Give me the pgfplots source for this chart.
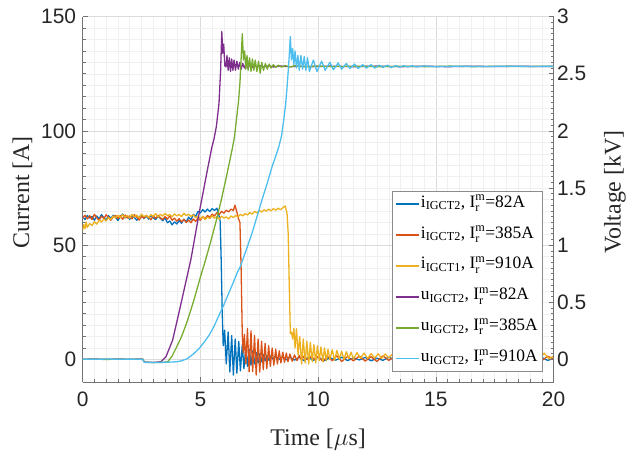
\documentclass[border=0pt]{standalone}
\usepackage{amsmath}
\usepackage{fontspec}
\setmainfont{Liberation Serif}
\setsansfont{Liberation Sans}
\usepackage{pgfplots}
\pgfplotsset{compat=1.18}
\definecolor{cblue}{rgb}{0,0.447,0.741}
\definecolor{corange}{rgb}{0.85,0.325,0.098}
\definecolor{cyellow}{rgb}{0.929,0.694,0.125}
\definecolor{cpurple}{rgb}{0.494,0.184,0.556}
\definecolor{cgreen}{rgb}{0.466,0.674,0.188}
\definecolor{ccyan}{rgb}{0.301,0.745,0.933}
\pgfplotsset{
  common/.style={
    scale only axis, width=473pt, height=367.3pt,
    xmin=0, xmax=20,
    tick align=inside,
    major tick length=5pt, minor tick length=3pt,
    axis line style={black!55, line width=0.6pt},
    every tick/.style={black!55, line width=0.6pt},
    every tick label/.append style={font=\fontsize{21}{21}\selectfont\sffamily, text=black!85},
    /pgf/number format/assume math mode=true,
    label style={font=\fontsize{24}{24}\selectfont, text=black!85},
    every axis plot/.append style={line width=1.3pt, line join=round},
  }
}
\begin{document}
\begin{tikzpicture}
\path (-83pt,-71pt) rectangle (546pt,384pt);
\begin{axis}[common,
  ymin=-10, ymax=150,
  axis y line*=left, axis x line*=bottom,
  xtick={0,5,10,15,20}, ytick={0,50,100,150},
  minor x tick num=9, minor y tick num=9,
  grid=both, major grid style={black!14, line width=0.5pt}, minor grid style={black!6, line width=0.5pt},
  xticklabel style={yshift=-6pt},
  yticklabel style={xshift=-3pt},
  xlabel={Time [$\mu$s]}, ylabel={Current [A]},
  xlabel style={at={(axis description cs:0.5,-0.157)}, anchor=center},
  ylabel style={at={(axis description cs:-0.128,0.52)}, anchor=center},
]
\addplot[cblue] coordinates {(0,62.5)(0.1,61.2)(0.2,63.0)(0.3,61.8)(0.4,62.6)(0.5,60.9)(0.6,62.8)(0.7,61.5)(0.8,63.4)(0.9,62.0)(1.0,61.0)(1.1,62.9)(1.2,61.7)(1.3,63.1)(1.4,62.2)(1.5,60.8)(1.6,62.5)(1.7,63.6)(1.8,61.9)(1.9,62.7)(2.0,61.3)(2.1,63.0)(2.2,62.1)(2.3,60.9)(2.4,62.4)(2.5,63.2)(2.6,61.6)(2.7,62.8)(2.8,61.4)(2.9,63.1)(3.0,62.0)(3.1,61.2)(3.2,62.6)(3.3,61.8)(3.4,60.7)(3.5,61.9)(3.6,59.8)(3.7,60.6)(3.8,58.9)(3.9,60.2)(4.0,59.3)(4.1,60.8)(4.2,59.6)(4.3,61.4)(4.4,60.2)(4.5,62.3)(4.6,61.1)(4.7,63.5)(4.8,62.6)(4.9,64.8)(5.0,64.1)(5.1,65.6)(5.2,64.5)(5.3,65.8)(5.4,64.7)(5.5,66.0)(5.6,65.2)(5.7,66.2)(5.78,63.5)(5.84,60.5)(5.88,45)(5.93,20)(5.97,6)(6.03,12.8)(6.1,-2)(6.18,12)(6.25,-5.5)(6.33,10.5)(6.4,-6.8)(6.48,9)(6.55,-6)(6.63,8)(6.7,-5)(6.78,6.5)(6.85,-4)(6.93,5.5)(7.0,-3)(7.08,4.5)(7.15,-2.5)(7.23,3.8)(7.3,-2)(7.38,3)(7.45,-1.5)(7.53,2.6)(7.6,-1)(7.68,2.2)(7.75,-0.6)(7.83,1.8)(7.9,-0.3)(7.98,1.5)(8.1,0)(8.2,1.3)(8.35,0.1)(8.5,1.2)(8.65,-0.2)(8.8,1.1)(9.0,-0.3)(9.2,1.0)(9.4,-0.5)(9.6,0.9)(9.8,-0.4)(10.0,1.1)(10.25,-0.6)(10.5,0.8)(10.75,-0.3)(11.0,1.0)(11.25,-0.5)(11.5,0.7)(11.75,-0.2)(12.0,0.9)(12.25,-0.6)(12.5,0.6)(12.75,-0.4)(13.0,1.0)(13.25,-0.3)(13.5,0.8)(13.75,-0.5)(14.0,0.7)(14.25,-0.2)(14.5,0.9)(14.75,-0.6)(15.0,0.5)(15.25,-0.3)(15.5,1.0)(15.75,-0.4)(16.0,0.7)(16.25,-0.5)(16.5,0.8)(16.75,-0.2)(17.0,0.9)(17.25,-0.5)(17.5,0.6)(17.75,-0.3)(18.0,1.0)(18.25,-0.4)(18.5,0.7)(18.75,-0.6)(19.0,0.8)(19.25,-0.2)(19.5,0.9)(19.75,-0.4)(20.0,0.5)};
\addplot[corange] coordinates {(0.0,61.8)(0.1,63.1)(0.2,61.5)(0.3,62.9)(0.4,61.2)(0.5,63.5)(0.6,62.0)(0.7,60.8)(0.8,62.7)(0.9,61.6)(1.0,63.3)(1.1,62.1)(1.2,60.9)(1.3,62.4)(1.4,63.0)(1.5,61.7)(1.6,62.9)(1.7,61.3)(1.8,63.2)(1.9,61.9)(2.0,62.8)(2.1,61.5)(2.2,63.4)(2.3,62.2)(2.4,61.0)(2.5,62.6)(2.6,61.8)(2.7,63.0)(2.8,62.3)(2.9,61.1)(3.0,62.9)(3.1,61.7)(3.2,63.1)(3.3,62.0)(3.4,61.2)(3.5,62.5)(3.6,61.4)(3.7,62.8)(3.8,60.9)(3.9,61.8)(4.0,60.5)(4.1,61.6)(4.2,60.2)(4.3,61.3)(4.4,59.9)(4.5,61.0)(4.6,59.8)(4.7,61.5)(4.8,60.4)(4.9,61.9)(5.0,60.9)(5.1,62.5)(5.2,61.6)(5.3,63.0)(5.4,62.2)(5.5,63.6)(5.6,62.8)(5.7,64.2)(5.8,63.4)(5.9,64.8)(6.0,64.0)(6.1,65.3)(6.2,64.6)(6.3,65.8)(6.4,65.1)(6.47,67.5)(6.55,64.5)(6.62,61.5)(6.68,60)(6.73,40)(6.78,10.6)(6.82,3)(6.87,11)(6.93,-2)(7.0,13.5)(7.07,-5.4)(7.15,12.5)(7.22,-5.3)(7.3,10.5)(7.37,-6.8)(7.45,9)(7.52,-5.5)(7.6,8)(7.67,-4.5)(7.75,7)(7.82,-4)(7.9,6)(7.97,-3)(8.05,5)(8.12,-2.5)(8.2,4.5)(8.27,-2)(8.35,3.8)(8.42,-1.5)(8.5,3.2)(8.57,-1.2)(8.65,2.8)(8.72,-1)(8.8,2.4)(8.9,-0.8)(9.0,2)(9.1,-0.5)(9.2,1.8)(9.3,-0.3)(9.4,1.5)(9.55,0)(9.7,1.3)(9.85,0.1)(10.0,1.2)(10.2,-0.8)(10.4,1.4)(10.6,-0.5)(10.8,1.6)(11.0,-0.9)(11.25,1.3)(11.5,-0.6)(11.75,1.5)(12.0,-0.7)(12.25,1.2)(12.5,-0.9)(12.75,1.6)(13.0,-0.4)(13.25,1.3)(13.5,-0.8)(13.75,1.1)(14.0,-0.6)(14.25,1.4)(14.5,-0.5)(14.75,1.2)(15.0,-0.8)(15.25,1.5)(15.5,-0.3)(15.75,1.1)(16.0,-0.7)(16.25,1.3)(16.5,-0.6)(16.75,1.4)(17.0,-0.5)(17.25,1.2)(17.5,-0.8)(17.75,1.0)(18.0,-0.4)(18.25,1.5)(18.5,-0.6)(18.75,1.3)(19.0,-0.7)(19.25,1.1)(19.5,-0.5)(19.75,1.4)(20.0,0.3)};
\addplot[cyellow] coordinates {(0.0,56.5)(0.05,59)(0.1,57.2)(0.15,60.1)(0.2,57.8)(0.3,59.5)(0.4,58.6)(0.5,60.3)(0.6,59.2)(0.7,61.0)(0.8,60.1)(0.9,61.5)(1.0,60.6)(1.1,62.2)(1.2,61.3)(1.3,62.8)(1.4,61.9)(1.5,63.1)(1.6,62.0)(1.7,63.4)(1.8,62.2)(1.9,63.0)(2.0,61.8)(2.1,63.5)(2.2,62.4)(2.3,63.2)(2.4,61.9)(2.5,63.6)(2.6,62.5)(2.7,63.1)(2.8,62.0)(2.9,63.4)(3.0,62.6)(3.1,63.8)(3.2,62.3)(3.3,63.5)(3.4,62.7)(3.5,63.9)(3.6,62.9)(3.7,63.4)(3.8,62.4)(3.9,63.7)(4.0,62.8)(4.1,63.5)(4.2,62.5)(4.3,64.0)(4.4,62.9)(4.5,63.6)(4.6,62.6)(4.7,63.3)(4.8,62.0)(4.9,62.8)(5.0,61.5)(5.1,62.6)(5.2,61.2)(5.3,62.3)(5.4,61.6)(5.5,62.9)(5.6,61.8)(5.7,62.5)(5.8,61.4)(5.9,62.7)(6.0,61.9)(6.1,62.4)(6.2,61.5)(6.3,62.8)(6.4,62.1)(6.5,63.0)(6.6,62.4)(6.7,63.5)(6.8,62.8)(6.9,63.9)(7.0,63.2)(7.1,64.3)(7.2,63.6)(7.3,64.8)(7.4,64.1)(7.5,65.2)(7.6,64.5)(7.7,65.5)(7.8,64.9)(7.9,65.8)(8.0,65.0)(8.1,66.0)(8.2,65.3)(8.3,66.2)(8.4,65.5)(8.5,66.4)(8.6,67.2)(8.68,64)(8.73,55)(8.78,30)(8.82,11.3)(8.87,12)(8.92,9)(8.97,13.5)(9.02,5)(9.08,13.5)(9.15,2)(9.22,10)(9.3,-2)(9.37,9)(9.45,-1.5)(9.52,8)(9.6,-2)(9.67,7.5)(9.75,-1)(9.82,6.5)(9.9,-1.5)(9.97,6)(10.05,-0.5)(10.12,5.5)(10.2,-1)(10.27,5)(10.35,-0.5)(10.42,4.5)(10.5,0)(10.6,4.2)(10.7,-0.3)(10.8,4)(10.9,0.2)(11.0,3.6)(11.1,0)(11.2,3.4)(11.3,0.4)(11.4,3.2)(11.5,0.2)(11.65,3.0)(11.8,0.5)(11.95,2.8)(12.1,0.4)(12.25,2.6)(12.4,0.6)(12.55,2.5)(12.7,0.5)(12.85,2.4)(13.0,0.7)(13.2,2.8)(13.4,-0.2)(13.6,2.5)(13.8,0.3)(14.0,2.9)(14.2,-0.4)(14.4,2.4)(14.6,0.5)(14.8,2.7)(15.0,0.0)(15.2,2.2)(15.4,0.4)(15.6,2.6)(15.8,-0.3)(16.0,2.3)(16.2,0.6)(16.4,2.8)(16.6,0.1)(16.8,2.4)(17.0,-0.2)(17.2,2.5)(17.4,0.5)(17.6,2.7)(17.8,0.0)(18.0,2.3)(18.2,0.4)(18.4,2.9)(18.6,-0.1)(18.8,2.2)(19.0,0.6)(19.2,2.6)(19.4,0.2)(19.6,2.8)(19.8,0.3)(20.0,1.5)};
\end{axis}
\begin{axis}[common,
  ymin=-0.2, ymax=3,
  axis y line*=right, axis x line=none,
  ytick={0,0.5,1,1.5,2,2.5,3}, minor y tick num=9,
  ylabel={Voltage [kV]},
  ylabel style={at={(axis description cs:1.130,0.52)}, anchor=center, rotate=0},
  legend cell align=left,
  legend image code/.code={\draw[#1, line width=1.7pt] (0pt,0pt) -- (23pt,0pt);},
  legend style={at={(rel axis cs:0.9753,0.029)}, anchor=south east,
    draw=black!45, fill=white,
    font=\fontsize{17.5}{17.5}\selectfont,
    inner xsep=3pt, inner ysep=5pt, row sep=15pt,
    nodes={inner sep=1pt, text height=10pt, text depth=4pt}},
]
\addlegendimage{cblue}
\addlegendentry{i$_{\text{IGCT2}}$, I$^{\text{m}}_{\text{r}}$=82A}
\addlegendimage{corange}
\addlegendentry{i$_{\text{IGCT2}}$, I$^{\text{m}}_{\text{r}}$=385A}
\addlegendimage{cyellow}
\addlegendentry{i$_{\text{IGCT1}}$, I$^{\text{m}}_{\text{r}}$=910A}
\addplot[cpurple] coordinates {(0,0.002)(0.5,0.004)(1,0.001)(1.5,0.004)(2,0.002)(2.55,0.004)(2.62,-0.022)(3.0,-0.026)(3.33,-0.02)(3.54,0.024)(3.82,0.168)(4.1,0.418)(4.38,0.676)(4.6,0.878)(4.95,1.284)(5.3,1.66)(5.48,1.85)(5.58,1.93)(5.68,2.04)(5.79,2.24)(5.86,2.53)(5.91,2.87)(5.95,2.68)(5.99,2.76)(6.04,2.57)(6.09,2.56)(6.13,2.66)(6.18,2.53)(6.23,2.64)(6.28,2.52)(6.33,2.63)(6.38,2.53)(6.43,2.62)(6.49,2.53)(6.55,2.61)(6.61,2.54)(6.67,2.60)(6.73,2.54)(6.8,2.59)(6.87,2.55)(6.94,2.585)(7.02,2.55)(7.1,2.58)(7.2,2.555)(7.3,2.575)(7.4,2.558)(7.5,2.572)(7.7,2.56)(7.9,2.57)(8.1,2.56)(8.4,2.568)(8.8,2.561)(9.2,2.567)(9.7,2.562)(10.5,2.567)(11.5,2.562)(12.5,2.567)(13.5,2.562)(14.5,2.566)(15.5,2.562)(16.5,2.566)(17.5,2.563)(18.5,2.566)(19.5,2.563)(20,2.565)};
\addlegendentry{u$_{\text{IGCT2}}$, I$^{\text{m}}_{\text{r}}$=82A}
\addplot[cgreen] coordinates {(0,0.001)(0.5,0.003)(1,0.0)(1.5,0.003)(2,0.001)(2.55,0.003)(2.62,-0.024)(3.0,-0.027)(3.4,-0.025)(3.61,-0.02)(3.8,0.03)(3.96,0.096)(4.18,0.19)(4.38,0.298)(4.56,0.41)(4.74,0.53)(5.02,0.734)(5.23,0.878)(5.45,1.04)(5.65,1.196)(5.87,1.38)(6.08,1.574)(6.25,1.74)(6.36,1.85)(6.45,1.95)(6.53,2.096)(6.62,2.26)(6.68,2.42)(6.74,2.676)(6.78,2.85)(6.83,2.62)(6.88,2.70)(6.93,2.54)(6.98,2.66)(7.03,2.53)(7.09,2.64)(7.15,2.52)(7.21,2.63)(7.27,2.53)(7.33,2.62)(7.40,2.52)(7.47,2.61)(7.54,2.505)(7.61,2.60)(7.68,2.53)(7.76,2.59)(7.84,2.54)(7.92,2.585)(8.0,2.55)(8.1,2.58)(8.2,2.555)(8.3,2.575)(8.45,2.558)(8.6,2.572)(8.8,2.56)(9.0,2.57)(9.4,2.561)(9.9,2.568)(10.6,2.562)(11.6,2.567)(12.6,2.562)(13.6,2.566)(14.6,2.562)(15.6,2.567)(16.6,2.562)(17.6,2.566)(18.6,2.563)(19.6,2.566)(20,2.564)};
\addlegendentry{u$_{\text{IGCT2}}$, I$^{\text{m}}_{\text{r}}$=385A}
\addplot[ccyan] coordinates {(0,0.003)(0.5,0.001)(1,0.004)(1.5,0.002)(2,0.003)(2.55,0.002)(2.62,-0.025)(3.0,-0.027)(3.5,-0.025)(4.0,-0.02)(4.2,-0.012)(4.45,0.008)(4.7,0.048)(4.95,0.096)(5.15,0.148)(5.37,0.212)(5.58,0.29)(5.79,0.386)(6.0,0.48)(6.22,0.588)(6.4,0.675)(6.57,0.762)(6.71,0.82)(6.95,0.96)(7.2,1.11)(7.42,1.26)(7.62,1.40)(7.85,1.55)(8.05,1.69)(8.2,1.78)(8.33,1.86)(8.45,1.96)(8.54,2.096)(8.62,2.23)(8.68,2.38)(8.74,2.55)(8.78,2.676)(8.82,2.826)(8.87,2.62)(8.92,2.72)(8.97,2.58)(9.02,2.70)(9.08,2.55)(9.14,2.66)(9.2,2.53)(9.27,2.66)(9.34,2.54)(9.41,2.65)(9.48,2.53)(9.55,2.64)(9.63,2.52)(9.8,2.62)(9.95,2.52)(10.15,2.61)(10.3,2.53)(10.5,2.60)(10.65,2.535)(10.85,2.595)(11.0,2.54)(11.2,2.59)(11.35,2.545)(11.55,2.585)(11.7,2.545)(11.9,2.58)(12.05,2.55)(12.25,2.58)(12.4,2.55)(12.6,2.575)(12.75,2.555)(12.95,2.575)(13.1,2.555)(13.3,2.572)(13.45,2.558)(13.65,2.571)(13.8,2.559)(14.0,2.57)(14.2,2.56)(14.5,2.568)(15,2.562)(16,2.566)(17,2.563)(18,2.566)(19,2.564)(20,2.565)};
\addlegendentry{u$_{\text{IGCT2}}$, I$^{\text{m}}_{\text{r}}$=910A}
\end{axis}
\end{tikzpicture}
\end{document}
